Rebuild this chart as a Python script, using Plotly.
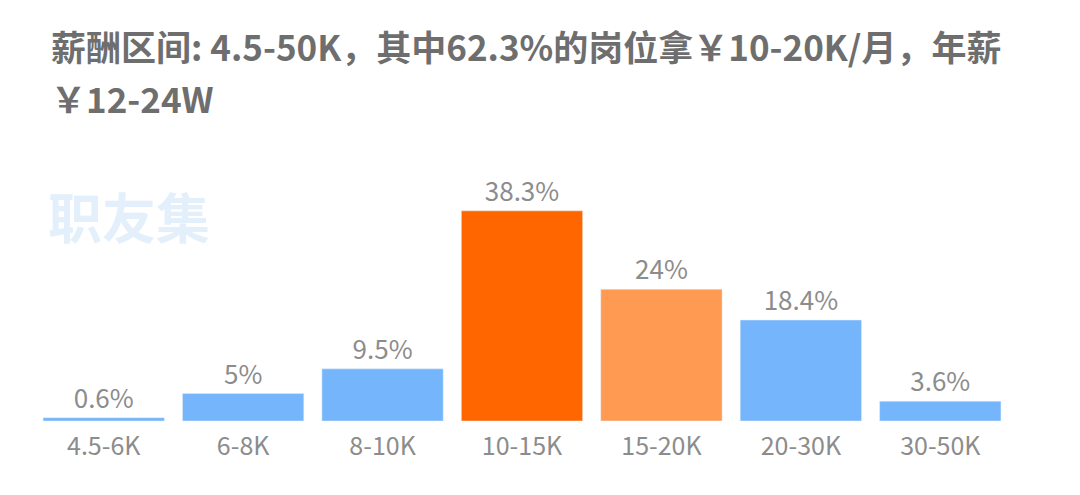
import plotly.graph_objects as go

categories = ["4.5-6K", "6-8K", "8-10K", "10-15K", "15-20K", "20-30K", "30-50K"]
shares = [0.6, 5, 9.5, 38.3, 24, 18.4, 3.6]
labels = ["0.6%", "5%", "9.5%", "38.3%", "24%", "18.4%", "3.6%"]
colors = ["#74b5fc", "#74b5fc", "#74b5fc", "#ff6600", "#ff9a52", "#74b5fc", "#74b5fc"]
title_lines = ["薪酬区间: 4.5-50K，其中62.3%的岗位拿￥10-20K/月，年薪", "￥12-24W"]

fig = go.Figure(go.Bar(
    x=categories, y=shares, marker_color=colors, text=labels,
    textposition="outside", cliponaxis=False,
    textfont=dict(size=26, color="#8c8c8c"),
))

fig.update_layout(
    width=1080, height=495,
    margin=dict(l=26, r=78, t=143, b=82),
    plot_bgcolor="white", paper_bgcolor="white",
    font=dict(family="Noto Sans CJK SC, sans-serif"),
    bargap=0.13, showlegend=False,
    xaxis=dict(showgrid=False, showline=False, ticks="", ticklabelstandoff=8,
               tickfont=dict(size=25, color="#8c8c8c")),
    yaxis=dict(range=[0, 49.2], visible=False),
)

# title as two positioned lines
for line, ypos in zip(title_lines, [1.39, 1.2]):
    fig.add_annotation(
        text=line, xref="paper", yref="paper", x=0.015, y=ypos,
        xanchor="left", yanchor="middle", showarrow=False,
        font=dict(size=35, color="#6e6e6e", weight="bold"),
    )

fig.add_annotation(
    text="职友集", xref="paper", yref="paper", x=0.012, y=0.76,
    xanchor="left", yanchor="middle", showarrow=False,
    font=dict(size=54, color="#e3f0fc", weight="bold"),
)

fig.write_html("out.html")
